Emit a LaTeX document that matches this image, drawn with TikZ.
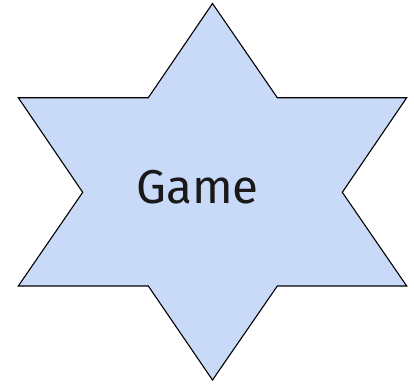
\documentclass[tikz,border=0pt]{standalone}
\usepackage{fontspec}
\setmainfont{Fira Sans}
\definecolor{starblue}{HTML}{C9DAF8}

\begin{document}
\begin{tikzpicture}[x=1pt, y=-1pt, line join=miter]
	% Khung
	\useasboundingbox (0,0) rectangle (414,383);
	% Ngôi sao sáu cánh
	\draw[fill=starblue, line width=1.1pt] (212.5,3.5) -- (277.3,97.7) -- (406.7,97.7) -- (342.3,192.3)
		-- (406.7,286) -- (277.3,286) -- (212.5,380) -- (148.3,286) -- (18.3,286)
		-- (82.7,192.3) -- (18.3,97.7) -- (148.3,97.7) -- cycle;
	% Nhãn
	\node[font=\fontsize{47.5}{56}\selectfont, text=black!90] (game) at (197.5,187) {Game};
\end{tikzpicture}
\end{document}
